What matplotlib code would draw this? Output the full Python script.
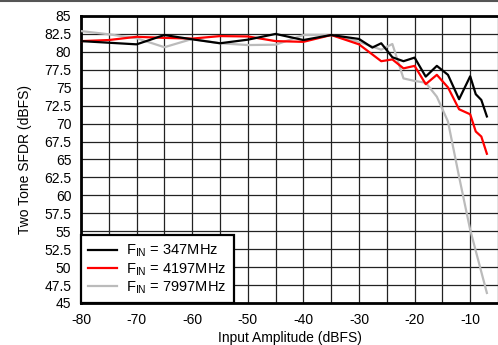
import matplotlib
matplotlib.use("Agg")
import matplotlib.pyplot as plt
from matplotlib.lines import Line2D

plt.rcParams['font.family'] = ['Liberation Sans', 'DejaVu Sans']
plt.rcParams['mathtext.fontset'] = 'custom'
plt.rcParams['mathtext.rm'] = 'Liberation Sans'

# Data
amp_347 = [-80, -70, -65, -60, -55, -50, -45, -40, -35, -30, -27.6, -26, -24, -22, -20, -18, -16, -14, -12, -10, -9, -8, -7]
sfdr_347 = [81.5, 81.05, 82.35, 81.75, 81.2, 81.7, 82.5, 81.65, 82.35, 81.8, 80.6, 81.2, 79.25, 78.7, 79.2, 76.55, 78.05, 76.8, 73.4, 76.6, 74.1, 73.3, 71.0]

amp_4197 = [-80, -75, -70, -65, -60, -55, -50, -45, -40, -35, -30, -26, -24, -22, -20, -18, -16, -14, -12, -10, -9, -8, -7]
sfdr_4197 = [81.5, 81.65, 82.1, 81.95, 81.85, 82.2, 82.15, 81.5, 81.4, 82.35, 81.05, 78.7, 78.95, 77.7, 78.05, 75.5, 76.8, 75.05, 72.0, 71.3, 68.9, 68.2, 65.8]

amp_7997 = [-80, -75, -70, -65, -60, -55, -50, -45, -40, -35, -30, -26, -24, -22, -20, -18, -16, -14, -12, -10, -7]
sfdr_7997 = [82.9, 82.45, 81.9, 80.65, 81.8, 81.2, 80.95, 81.0, 82.35, 82.35, 81.4, 80.3, 81.1, 76.3, 75.95, 75.7, 73.75, 70.3, 62.6, 55.2, 46.4]

labels = [r'F$_{\mathrm{IN}}$ = 347MHz', r'F$_{\mathrm{IN}}$ = 4197MHz', r'F$_{\mathrm{IN}}$ = 7997MHz']
x_ticks = [-80, -70, -60, -50, -40, -30, -20, -10]
y_ticks = [85, 82.5, 80, 77.5, 75, 72.5, 70, 67.5, 65, 62.5, 60, 57.5, 55, 52.5, 50, 47.5, 45]

fig = plt.figure(figsize=(4.98, 3.45), dpi=100)
ax = fig.add_axes([81/498, 1-303/345, 1-81/498, (303-16)/345])

ax.plot(amp_347, sfdr_347, color='black', lw=1.6, label=labels[0], zorder=5)
ax.plot(amp_4197, sfdr_4197, color='#ff0000', lw=1.6, label=labels[1], zorder=4)
ax.plot(amp_7997, sfdr_7997, color='#bbbbbb', lw=1.6, label=labels[2], zorder=3)

ax.set_xlim(-80, -80 + (498-81)/5.614)
ax.set_ylim(45, 85)
ax.set_xticks(x_ticks)
ax.set_xticklabels([str(t) for t in x_ticks])
ax.set_yticks(y_ticks)
ax.set_yticklabels([('%g' % t) for t in y_ticks])
ax.set_xticks([-75, -65, -55, -45, -35, -25, -15, -5], minor=True)
ax.tick_params(axis='both', which='both', length=0, labelsize=10)
ax.tick_params(axis='y', pad=7)
ax.tick_params(axis='x', pad=7)
ax.grid(True, which='both', color='#222222', lw=0.9)
ax.set_axisbelow(True)

for s in ['left', 'bottom', 'top']:
    ax.spines[s].set_linewidth(2.0)
ax.spines['right'].set_visible(False)

ax.set_xlabel('Input Amplitude (dBFS)', fontsize=10, labelpad=3)
ax.set_ylabel('Two Tone SFDR (dBFS)', fontsize=10, labelpad=9)

leg = ax.legend(loc='lower left', fontsize=10.5, frameon=True, fancybox=False,
                edgecolor='black', framealpha=1, borderpad=0.5, handlelength=2.0,
                handletextpad=0.6, labelspacing=0.1, borderaxespad=0.0)
leg.get_frame().set_linewidth(1.6)

fig.add_artist(Line2D([0, 1], [1-1/345, 1-1/345], transform=fig.transFigure, color='#555555', lw=1.5))

fig.savefig('out.png', dpi=100)
